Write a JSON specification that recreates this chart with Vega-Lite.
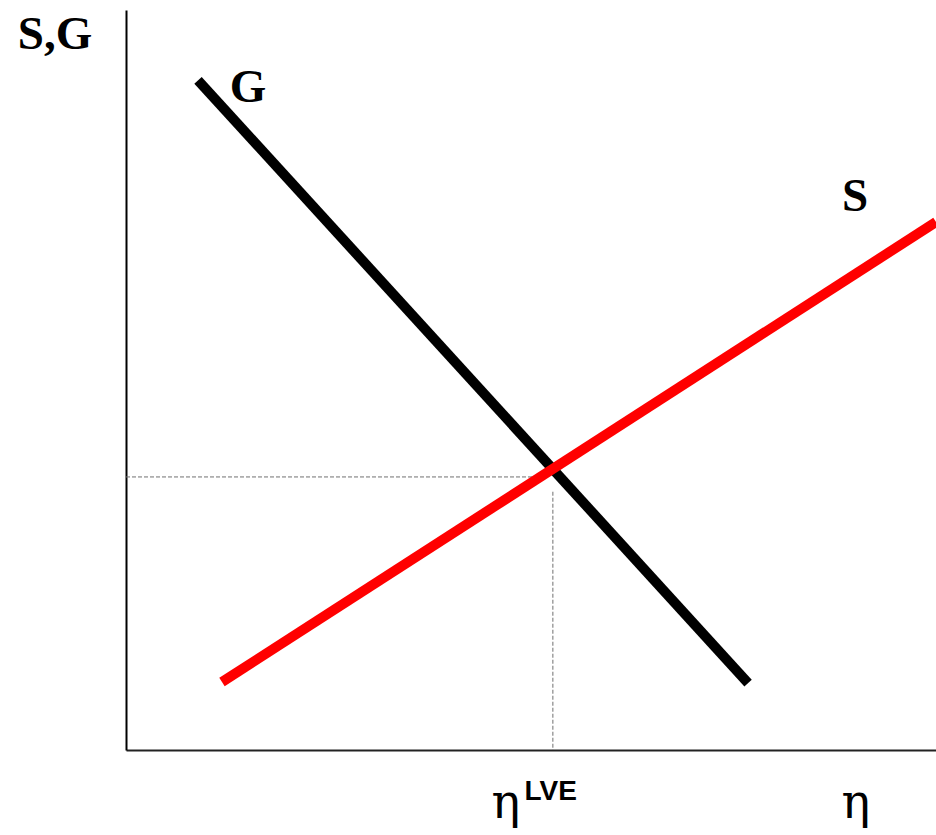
{
  "$schema": "https://vega.github.io/schema/vega-lite/v6.json",
  "width": 810,
  "height": 740,
  "autosize": "none",
  "padding": {"left": 126, "top": 10, "right": 0, "bottom": 85},
  "background": "white",
  "config": {"view": {"stroke": null}},
  "datasets": {
    "curves": [
      {"curve": "G", "x": 8.89, "y": 90.5},
      {"curve": "G", "x": 76.8, "y": 9.05},
      {"curve": "S", "x": 11.85, "y": 9.19},
      {"curve": "S", "x": 100, "y": 71.35}
    ],
    "guides": [
      {"x": 0, "y": 36.9, "x2": 52.0, "y2": 36.9},
      {"x": 52.7, "y": 34.9, "x2": 52.7, "y2": 0}
    ],
    "serifLabels": [
      {"label": "S,G", "x": -8.77, "y": 96.6},
      {"label": "G", "x": 15.06, "y": 89.5},
      {"label": "S", "x": 90.0, "y": 74.7}
    ],
    "etaLabels": [
      {"label": "η", "x": 46.9, "y": -9.19},
      {"label": "η", "x": 90.1, "y": -9.19}
    ],
    "supLabels": [
      {"label": "LVE", "x": 49.2, "y": -6.76}
    ]
  },
  "encoding": {
    "x": {"type": "quantitative", "scale": {"domain": [0, 100], "nice": false, "zero": false},
          "axis": {"title": null, "ticks": false, "labels": false, "grid": false, "domainColor": "#222222", "domainWidth": 2}},
    "y": {"type": "quantitative", "scale": {"domain": [0, 100], "nice": false, "zero": false},
          "axis": {"title": null, "ticks": false, "labels": false, "grid": false, "domainColor": "black", "domainWidth": 2}}
  },
  "layer": [
    {
      "data": {"name": "guides"},
      "mark": {"type": "rule", "color": "#707070", "strokeWidth": 1, "strokeDash": [4, 2]},
      "encoding": {"x": {"field": "x"}, "y": {"field": "y"}, "x2": {"field": "x2"}, "y2": {"field": "y2"}}
    },
    {
      "data": {"name": "curves"},
      "mark": {"type": "line", "strokeWidth": 10, "strokeCap": "butt", "clip": false},
      "encoding": {
        "x": {"field": "x"},
        "y": {"field": "y"},
        "detail": {"field": "curve"},
        "color": {"field": "curve", "type": "nominal", "scale": {"domain": ["G", "S"], "range": ["#000000", "#ff0000"]}, "legend": null}
      }
    },
    {
      "data": {"name": "serifLabels"},
      "mark": {"type": "text", "font": "Liberation Serif", "fontWeight": "bold", "fontSize": 47, "baseline": "middle", "align": "center", "color": "black", "clip": false},
      "encoding": {"x": {"field": "x"}, "y": {"field": "y"}, "text": {"field": "label"}}
    },
    {
      "data": {"name": "etaLabels"},
      "mark": {"type": "text", "font": "DejaVu Serif", "fontSize": 48, "baseline": "alphabetic", "align": "center", "color": "black", "clip": false},
      "encoding": {"x": {"field": "x"}, "y": {"field": "y"}, "text": {"field": "label"}}
    },
    {
      "data": {"name": "supLabels"},
      "mark": {"type": "text", "font": "Liberation Sans", "fontWeight": "bold", "fontSize": 28, "baseline": "alphabetic", "align": "left", "color": "black", "clip": false},
      "encoding": {"x": {"field": "x"}, "y": {"field": "y"}, "text": {"field": "label"}}
    }
  ]
}
